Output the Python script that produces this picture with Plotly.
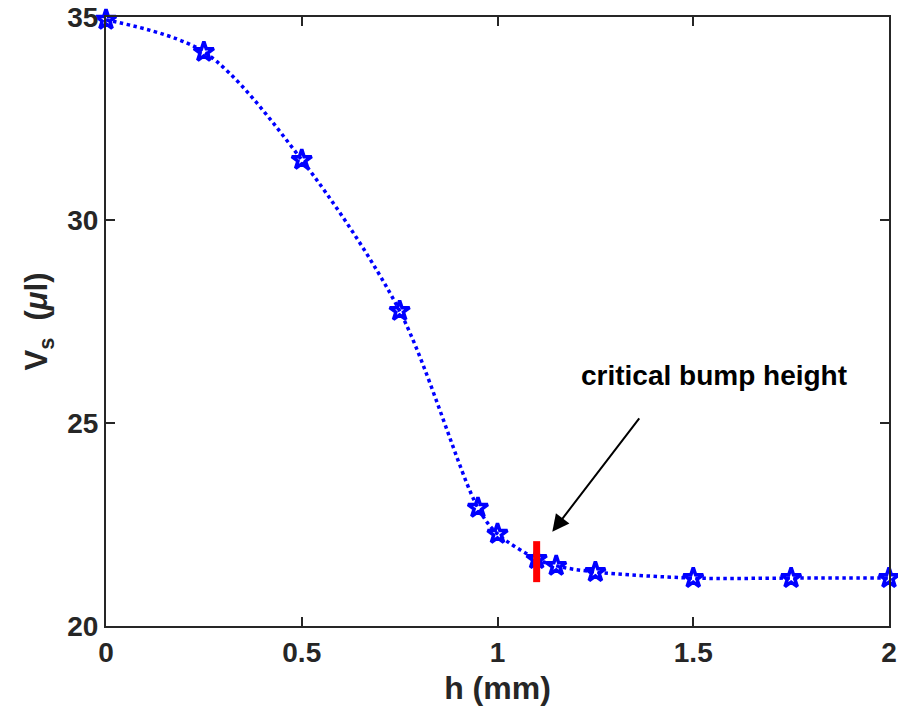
import plotly.graph_objects as go

# bump height h (mm) and the resulting volume V_s (µl)
h_mm = [0.0, 0.25, 0.5, 0.75, 0.95, 1.0, 1.1, 1.15, 1.25, 1.5, 1.75, 2.0]
vs_ul = [34.93, 34.14, 31.48, 27.76, 22.91, 22.27, 21.65, 21.48, 21.33, 21.18, 21.18, 21.18]

# critical bump height marker
h_crit = [1.1, 1.1]
vs_crit = [21.08, 22.09]

x_ticks = [0, 0.5, 1, 1.5, 2]
y_ticks = [20, 25, 30, 35]

font_family = "Liberation Sans, Arial, sans-serif"
blue = "#0000FF"
dark = "#262626"

fig = go.Figure()
fig.add_trace(go.Scatter(
    x=h_mm, y=vs_ul, mode="lines+markers",
    line=dict(color=blue, width=3.5, dash="dot", shape="spline", smoothing=0.9),
    marker=dict(symbol="star-open", size=15, color=blue, line=dict(color=blue, width=3.5)),
    cliponaxis=False, showlegend=False,
))
fig.add_trace(go.Scatter(
    x=h_crit, y=vs_crit, mode="lines",
    line=dict(color="#FF0000", width=7),
    showlegend=False,
))

fig.add_annotation(
    x=1.14, y=22.32, ax=1.365, ay=25.15,
    xref="x", yref="y", axref="x", ayref="y",
    text="", showarrow=True, arrowhead=2, arrowsize=1.7, arrowwidth=2, arrowcolor="black",
)
fig.add_annotation(
    x=1.552, y=26.18, xref="x", yref="y", text="<b>critical bump height</b>",
    showarrow=False, font=dict(family=font_family, size=28, color="black"),
)

axis_common = dict(
    showline=True, linecolor=dark, linewidth=2, mirror="ticks",
    ticks="inside", ticklen=9, tickwidth=1.5, tickcolor=dark,
    showgrid=False, zeroline=False, automargin=False,
    tickfont=dict(family=font_family, size=28, color=dark),
)

fig.update_xaxes(
    range=[0, 2], tickvals=x_ticks, ticktext=[f"<b>{v:g}</b>" for v in x_ticks],
    title=dict(text="<b>h (mm)</b>", font=dict(family=font_family, size=32, color=dark), standoff=10),
    **axis_common,
)
fig.update_yaxes(
    range=[20, 35], tickvals=y_ticks, ticktext=[f"<b>{v}</b>" for v in y_ticks],
    title=dict(text="<b>V<sub>s</sub>  (<i>μ</i>l)</b>", font=dict(family=font_family, size=31, color=dark), standoff=10),
    **axis_common,
)

fig.update_layout(
    width=898, height=720,
    margin=dict(l=106, r=9, t=17, b=94),
    plot_bgcolor="white", paper_bgcolor="white",
)

fig.write_html("out.html")
